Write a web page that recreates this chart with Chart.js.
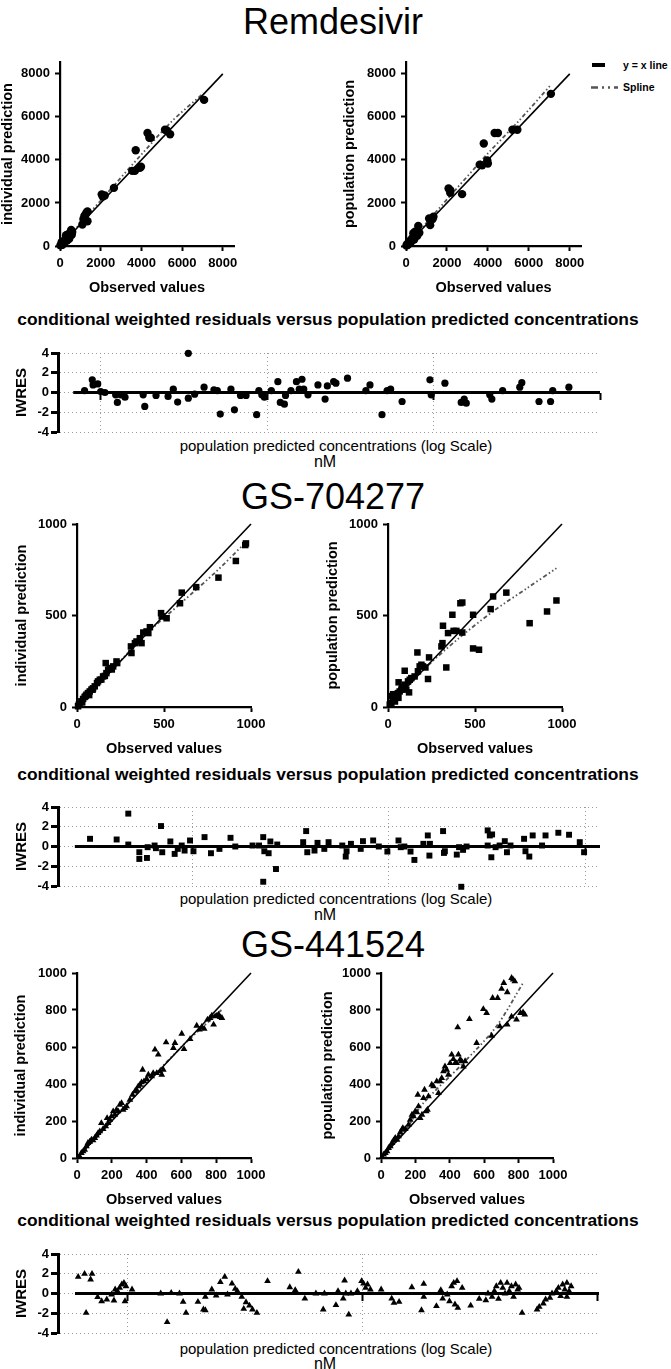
<!DOCTYPE html>
<html><head><meta charset="utf-8">
<script src="https://cdn.jsdelivr.net/npm/chart.js@4.4.1/dist/chart.umd.min.js"></script>
<style>
html,body{margin:0;padding:0;background:#fff;}
body{position:relative;width:671px;height:1369px;overflow:hidden;font-family:'Liberation Sans',Arial,Helvetica,sans-serif;color:#000;}
canvas{position:absolute;}
.t{position:absolute;white-space:nowrap;transform:translate(-50%,-50%);line-height:1;}
.tl{position:absolute;white-space:nowrap;transform:translateY(-50%);line-height:1;font-weight:bold;font-size:10.5px;}
</style></head><body>
<div class="t" style="left:333px;top:22px;font-size:36px">Remdesivir</div>
<div class="t" style="left:333px;top:497px;font-size:36px">GS-704277</div>
<div class="t" style="left:333px;top:945px;font-size:36px">GS-441524</div>

<div class="t" style="left:328px;top:320px;font-size:17.4px;font-weight:bold">conditional weighted residuals versus population predicted concentrations</div>
<div class="t" style="left:328px;top:775px;font-size:17.4px;font-weight:bold">conditional weighted residuals versus population predicted concentrations</div>
<div class="t" style="left:328px;top:1221px;font-size:17.4px;font-weight:bold">conditional weighted residuals versus population predicted concentrations</div>

<div class="t" style="left:336px;top:445px;font-size:15px">population predicted concentrations (log Scale)</div>
<div class="t" style="left:325px;top:462px;font-size:16px">nM</div>
<div class="t" style="left:336px;top:898px;font-size:15px">population predicted concentrations (log Scale)</div>
<div class="t" style="left:325px;top:915px;font-size:16px">nM</div>
<div class="t" style="left:336px;top:1348px;font-size:15px">population predicted concentrations (log Scale)</div>
<div class="t" style="left:325px;top:1364px;font-size:16px">nM</div>

<div style="position:absolute;left:592px;top:63px;width:13px;height:3.5px;background:#000"></div>
<svg style="position:absolute;left:591px;top:85px" width="27" height="5"><line x1="0" y1="2.5" x2="27" y2="2.5" stroke="#555" stroke-width="2.5" stroke-dasharray="7 4 2 4 2 4"/></svg>
<div class="tl" style="left:623px;top:65px">y = x line</div>
<div class="tl" style="left:623px;top:87px">Spline</div>

<script>
// ---------- DATA ----------
// Remdesivir: [observed, individual prediction]
const remIpred = [[20,30],[60,50],[100,120],[150,200],[200,150],[250,300],[300,350],[350,250],[300,500],[400,550],[450,400],[500,600],[550,750],[600,650],[580,520],[450,330],[120,60],[80,180],
  [1100,1000],[1150,1250],[1200,1400],[1300,1550],[1350,1600],[1350,1150],[1250,1450],[2050,2400],[2100,2300],[2200,2350],[2650,2700],[3550,3490],[3680,3490],[3720,4450],[3930,3630],[3980,3680],[4300,5250],[4390,5030],[4460,5030],[5160,5400],[5250,5370],[5410,5190],[7080,6790]];
// Remdesivir: [observed, population prediction]
const remPred = [[20,20],[60,80],[100,60],[150,150],[200,250],[250,200],[300,350],[350,400],[360,590],[440,660],[400,300],[520,510],[600,930],[650,620],[550,480],[120,150],
  [1130,1280],[1180,970],[1340,1360],[1300,1250],[2080,2670],[2160,2590],[2160,2470],[2740,2410],[3600,3780],[3720,3750],[3800,4760],[3970,3980],[4000,3830],[4330,5250],[4490,5250],[5200,5400],[5440,5400],[7080,7070]];
const remSplineI = [[0,0],[1000,1050],[2500,2650],[4000,4250],[5500,5800],[7050,7100]];
const remSplineP = [[0,0],[1000,1080],[2500,2700],[4000,4300],[5500,5800],[7080,7490]];
// Remdesivir IWRES: [population predicted conc (nM), IWRES]
const remRes = [[8.0,0.2],[8.9,1.28],[9.0,0.77],[9.6,0.87],[10,0.1],[10.6,0],[12.3,-0.24],[12.6,-1.0],[13.2,-0.24],[14,-0.47],[18,-0.24],[18.4,-1.41],[21.5,-0.3],[25.4,-0.4],[27.3,0.34],[29,-0.97],[33.6,3.97],[33.6,-0.57],[36.7,-0.17],[41.8,0.54],[47.9,0.27],[50.2,0.2],[52.3,-2.18],[60.6,0.34],[63.6,-1.75],[69.2,-0.3],[74.7,-0.3],[86.5,-2.25],[89.2,0.2],[92.9,-0.24],[96.3,-0.47],[106,0.2],[116,1.1],[120,-1.0],[127,-1.18],[129,-0.3],[139,0.2],[150,1.1],[156,0.34],[162,1.34],[166,0.34],[176,-0.24],[202,0.77],[223,-0.67],[230,0.67],[251,1.1],[259,0.94],[304,1.45],[392,0.2],[415,0.77],[490,-2.25],[526,0.2],[552,0.34],[647,-0.91],[951,1.28],[968,-0.24],[1170,0.94],[1466,-1.0],[1528,-0.67],[1572,-1.08],[2176,-0.24],[2240,-0.67],[2600,0.2],[3296,0.54],[3391,1.0],[4300,-0.91],[5047,-0.91],[5200,0.2],[6500,0.54]];

// GS-704277
const gs7Ipred = [[6,4],[10,12],[15,18],[25,31],[30,25],[35,44],[44,55],[50,60],[54,67],[63,76],[70,65],[73,85],[83,95],[90,95],[92,102],[102,113],[115,131],[121,140],[131,149],[140,150],[150,167],[160,170],[165,240],[169,185],[179,204],[188,213],[200,205],[208,222],[227,249],[231,240],
  [310,331],[313,295],[333,349],[342,358],[361,376],[371,349],[381,407],[400,413],[419,436],[410,404],[483,513],[487,495],[515,485],[592,567],[602,625],[685,655],[813,707],[913,798],[967,885],[971,894]];
const gs7Pred = [[10,13],[19,22],[20,60],[29,40],[30,70],[38,49],[40,30],[48,58],[57,76],[60,50],[67,85],[61,135],[77,95],[80,110],[86,104],[96,122],[105,95],[115,140],[121,80],[125,149],[134,158],[96,198],[153,167],[169,298],[172,195],[182,222],[192,231],[201,222],[215,216],[230,153],[236,271],
  [307,331],[313,349],[316,444],[335,216],[345,404],[370,504],[377,416],[393,416],[416,567],[427,571],[427,407],[489,504],[489,320],[523,313],[590,535],[604,604],[680,625],[814,458],[914,522],[968,582]];
const gs7SplineI = [[0,0],[400,400],[600,570],[800,740],[975,905]];
const gs7SplineP = [[0,0],[200,200],[400,370],[600,520],[800,650],[968,758]];
const gs7Res = [[3.0,0.78],[4.1,0.71],[4.7,3.33],[4.7,0.2],[5.35,-0.58],[5.35,-1.26],[5.85,-1.16],[5.9,-0.07],[6.4,0.1],[6.5,-0.17],[6.9,2.07],[7.0,-0.58],[7.7,0.51],[8.1,-0.75],[8.4,-0.24],[8.8,0.1],[9.1,-0.41],[9.7,0.61],[10.1,-0.48],[11.5,0.95],[12.4,-0.68],[13.7,-0.24],[15.6,0.88],[16.5,0],[20.2,0.1],[21.8,0.1],[22.9,0.95],[23.2,-0.48],[22.9,-3.57],[24.4,-0.68],[24.9,0.51],[26.6,-2.28],[27.0,0.2],[36.6,0.44],[37.9,1.56],[38.4,-0.58],[41.8,-0.41],[43.3,0.37],[46.9,-0.24],[49.3,0.44],[57.9,0.1],[60.3,-1.02],[60.9,-0.48],[64.1,0.27],[71.9,-0.24],[73.8,0.54],[83.2,0.61],[88.9,0],[98.3,-0.51],[112,0.61],[115,-0.07],[120,0],[129,-0.51],[135,-1.36],[150,0.27],[158,1.12],[161,-0.92],[162,0.27],[189,1.56],[191,-0.65],[193,-0.48],[222,-0.82],[228,-0.07],[234,-4.08],[239,-0.34],[249,0],[319,1.63],[327,1.12],[319,0.1],[333,-1.09],[336,1.22],[350,-0.07],[367,0.1],[390,0.54],[400,-0.58],[417,0.1],[489,0.78],[497,-0.48],[520,-1.02],[541,1.12],[604,0.1],[629,1.12],[731,1.39],[829,1.19],[940,0.44],[989,-0.58]];

// GS-441524
const gs4Ipred = [[15,9],[25,27],[35,36],[44,45],[54,63],[63,81],[73,88],[83,99],[92,96],[102,108],[112,121],[121,135],[131,144],[140,189],[150,157],[165,171],[173,216],[179,189],[188,207],[198,225],[208,252],[217,234],[227,261],[237,252],[246,288],[256,297],[265,261],[275,270],[285,279],
  [304,315],[319,342],[333,360],[342,369],[352,387],[362,396],[371,409],[377,477],[385,414],[400,427],[410,450],[429,441],[438,459],[448,586],[458,459],[467,559],[477,468],[487,450],[496,477],
  [512,625],[554,595],[563,622],[602,672],[615,589],[650,643],[688,715],[704,694],[717,708],[731,699],[750,748],[765,757],[785,721],[794,766],[813,775],[823,762],[833,757],[775,770],[804,770]];
const gs4Pred = [[6,5],[15,18],[25,27],[35,36],[44,54],[54,63],[64,81],[73,95],[83,108],[93,99],[102,117],[112,139],[122,153],[127,162],[141,157],[160,180],[170,207],[180,234],[189,225],[199,252],[209,247],[214,342],[218,279],[228,216],[238,234],[247,324],[253,369],[263,252],[270,261],[276,333],
  [295,396],[305,387],[324,414],[334,351],[344,414],[353,432],[363,468],[372,495],[382,477],[392,450],[402,513],[411,559],[421,535],[431,513],[440,513],[450,559],[460,532],[469,523],[479,495],[446,706],[489,523],
  [514,751],[556,622],[595,805],[614,784],[643,661],[649,865],[678,865],[691,712],[701,914],[714,946],[734,896],[734,721],[759,973],[768,964],[778,955],[759,764],[788,748],[811,784],[826,787],[836,775]];
const gs4SplineI = [[0,0],[300,305],[600,600],[830,800]];
const gs4SplineP = [[0,0],[150,160],[240,290],[480,515],[670,710],[826,946]];
const gs4Res = [[6.2,1.69],[6.6,1.99],[6.7,-1.96],[7.0,1.42],[7.1,1.99],[7.5,-0.37],[7.8,-0.78],[8.2,-0.61],[8.6,-0.1],[8.8,-0.71],[8.9,0.41],[9.1,0.24],[9.3,0.57],[9.5,0.91],[9.7,1.08],[9.8,-0.78],[9.9,0.74],[10.5,0.41],[13.9,0],[14.8,-2.9],[15.4,0.07],[16.7,0],[17.3,-0.84],[17.8,-1.96],[20.0,-0.84],[21.1,-1.62],[21.5,-1.69],[21.5,-0.34],[22.9,0.41],[23.9,-0.2],[24.9,1.15],[26.0,1.69],[26.7,-0.1],[27.9,1.01],[28.8,0.47],[29.4,0.24],[30.7,-0.34],[31.3,-1.55],[32.0,-0.88],[33.1,-1.22],[34.1,-1.62],[35.6,-1.96],[39.5,1.25],[49.1,0.64],[51.8,0.34],[53.4,2.2],[56.9,-0.51],[63.4,0],[68.1,-1.62],[68.9,0],[77.1,-1.18],[78.7,0.24],[82.8,-0.51],[83.9,1.32],[84.9,0],[87.4,-2.13],[89.3,0],[95.1,0.24],[99.1,1.25],[101,1.01],[103,0.57],[105,0.91],[108,0.41],[120,0.41],[133,-0.51],[136,-0.95],[143,-0.84],[162,0.64],[178,-1.69],[182,0.98],[182,-0.34],[206,-1.28],[215,0.34],[219,-0.51],[229,-0.1],[234,-0.78],[239,0.74],[244,1.08],[247,-1.11],[252,1.25],[254,-1.45],[265,0.57],[288,-1.22],[313,-0.54],[334,-0.68],[341,0],[355,-0.34],[363,0.24],[370,0.74],[378,-0.54],[386,1.08],[394,0.57],[403,0],[411,1.08],[420,0.24],[429,0.74],[438,-0.34],[447,0.91],[456,0.41],[462,0.57],[476,-1.96],[551,-1.62],[563,-1.35],[586,-1.01],[599,-0.61],[625,-0.44],[638,0],[665,0.24],[679,0.57],[694,-0.27],[708,0.91],[723,0.41],[738,1.08],[754,0.24],[738,-0.34],[769,0.74]];

// tick labels / axis ranges
const remTicks = [0, 2000, 4000, 6000, 8000];
const gs7Ticks = [0, 500, 1000];
const gs4Ticks = [0, 200, 400, 600, 800, 1000];
const remAxisMax = 8550, remLineMax = 8000, gsAxisMax = 1000, gsLineMax = 1000;
const remDecades = [10, 100, 1000, 10000];
const gsDecades = [10, 100, 1000];
const iwresTicks = [-4, -2, 0, 2, 4];

// ---------- DRAWING ----------
const FONT = "'Liberation Sans', Arial, Helvetica, sans-serif";
const f = (size, weight) => ({family: FONT, size, weight: weight || 'bold'});
const toXY = a => a.map(p => ({x: p[0], y: p[1]}));
const setTicks = vals => s => { s.ticks = vals.map(v => ({value: v})); };

function makeCanvas(left, top, w, h) {
  const c = document.createElement('canvas');
  c.width = Math.round(w); c.height = Math.round(h);
  c.style.left = left + 'px'; c.style.top = top + 'px';
  c.style.width = Math.round(w) + 'px'; c.style.height = Math.round(h) + 'px';
  document.body.appendChild(c);
  return c;
}

function scatterPanel(o) {
  const cl = Math.round(o.titleX - 9), ct = Math.round(o.t - 20), cr = Math.round(o.r + 40), cb = Math.round(o.obsY + 9);
  const c = makeCanvas(cl, ct, cr - cl, cb - ct);
  const yW = o.l - cl, xH = cb - o.b;
  const axisCommon = (title, fit) => ({
    type: 'linear', min: 0, max: o.max,
    afterBuildTicks: setTicks(o.ticks),
    ticks: {font: f(13), color: '#000', padding: 5, maxRotation: 0, autoSkip: false, callback: v => String(v)},
    grid: {drawOnChartArea: false, drawTicks: true, tickLength: 5, tickWidth: 2, tickColor: '#000'},
    border: {display: true, color: '#000', width: 2.2},
    title: {display: true, text: title, font: f(14.5), color: '#000', padding: {top: 0, bottom: 0}},
    afterFit: fit
  });
  new Chart(c, {
    type: 'scatter',
    data: {datasets: [
      {data: toXY(o.pts), pointStyle: o.style, pointRadius: o.radius, pointHoverRadius: o.radius, backgroundColor: '#000', borderColor: '#000', borderWidth: 0, clip: false},
      {data: [{x: 0, y: 0}, {x: o.lineMax, y: o.lineMax}], showLine: true, borderColor: '#000', borderWidth: 1.6, pointRadius: 0, clip: false},
      {data: toXY(o.spline), showLine: true, borderColor: '#555', borderWidth: 1.8, borderDash: [4, 2.5, 1.5, 2.5, 1.5, 2.5], tension: 0.3, pointRadius: 0, clip: false}
    ]},
    options: {
      responsive: false, animation: false, devicePixelRatio: 1, events: [],
      layout: {padding: {top: o.t - ct, right: cr - o.r, left: 0, bottom: 0}},
      plugins: {legend: {display: false}, tooltip: {enabled: false}},
      scales: {
        x: Object.assign(axisCommon('Observed values', s => { s.height = xH; }), {position: 'bottom'}),
        y: Object.assign(axisCommon(o.yTitle, s => { s.width = yW; }), {position: 'left'})
      }
    }
  });
}

function residPanel(o) {
  const ct = o.t - 14, cb = o.b + 10;
  const c = makeCanvas(0, ct, 640, cb - ct);
  new Chart(c, {
    type: 'scatter',
    data: {datasets: [
      {data: toXY(o.pts), pointStyle: o.style, pointRadius: o.radius, pointHoverRadius: o.radius, backgroundColor: '#000', borderColor: '#000', borderWidth: 0, clip: false},
      {data: [{x: o.zeroStart, y: 0}, {x: o.max, y: 0}], showLine: true, borderColor: '#000', borderWidth: 3, borderCapStyle: 'butt', pointRadius: 0, clip: false}
    ]},
    options: {
      responsive: false, animation: false, devicePixelRatio: 1, events: [],
      layout: {padding: {top: 14, right: 640 - o.r, left: 0, bottom: 10}},
      plugins: {legend: {display: false}, tooltip: {enabled: false}},
      scales: {
        x: {
          type: 'logarithmic', position: {y: 0}, min: o.min, max: o.max,
          afterBuildTicks: setTicks(o.decades),
          ticks: {display: false},
          grid: {drawOnChartArea: true, lineWidth: 1, color: ctx => (ctx.tick && ctx.tick.value / o.max > 0.97) ? 'rgba(0,0,0,0)' : '#9a9a9a',
                 drawTicks: true, tickLength: 7, tickWidth: 2, tickColor: '#000'},
          border: {display: false, dash: [1, 3]}
        },
        y: {
          type: 'linear', position: 'left', min: -4, max: 4,
          afterBuildTicks: setTicks(iwresTicks),
          ticks: {font: f(13), color: '#000', padding: 2, callback: v => String(v)},
          grid: {drawOnChartArea: true, color: '#9a9a9a', lineWidth: 1, drawTicks: true, tickLength: 7, tickWidth: 3, tickColor: '#000'},
          border: {display: true, color: '#000', width: 3, dash: [1, 3]},
          title: {display: true, text: 'IWRES', font: f(15), color: '#000', padding: {top: 13, bottom: 0}},
          afterFit: s => { s.width = 58; }
        }
      }
    }
  });
}

// Remdesivir
scatterPanel({l: 60, r: 234, t: 62, b: 246, max: remAxisMax, ticks: remTicks, lineMax: remLineMax, titleX: 8, obsY: 288,
  yTitle: 'individual prediction', pts: remIpred, spline: remSplineI, style: 'circle', radius: 4.2});
scatterPanel({l: 406, r: 581, t: 62, b: 246, max: remAxisMax, ticks: remTicks, lineMax: remLineMax, titleX: 350, obsY: 288,
  yTitle: 'population prediction', pts: remPred, spline: remSplineP, style: 'circle', radius: 4.2});
residPanel({t: 353, b: 432, r: 600, min: 5.54, max: 10000, zeroStart: 6.84, decades: remDecades, pts: remRes, style: 'circle', radius: 3.6});

// GS-704277
scatterPanel({l: 77, r: 251, t: 524, b: 707, max: gsAxisMax, ticks: gs7Ticks, lineMax: gsLineMax, titleX: 22, obsY: 748.5,
  yTitle: 'individual prediction', pts: gs7Ipred, spline: gs7SplineI, style: 'rect', radius: 4.6});
scatterPanel({l: 388, r: 562, t: 524, b: 707, max: gsAxisMax, ticks: gs7Ticks, lineMax: gsLineMax, titleX: 333, obsY: 749,
  yTitle: 'population prediction', pts: gs7Pred, spline: gs7SplineP, style: 'rect', radius: 4.6});
residPanel({t: 807, b: 886, r: 600, min: 2.06, max: 1192, zeroStart: 2.51, decades: gsDecades, pts: gs7Res, style: 'rect', radius: 4.2});

// GS-441524
scatterPanel({l: 77, r: 251, t: 973, b: 1158, max: gsAxisMax, ticks: gs4Ticks, lineMax: gsLineMax, titleX: 21, obsY: 1200,
  yTitle: 'individual prediction', pts: gs4Ipred, spline: gs4SplineI, style: 'triangle', radius: 3.9});
scatterPanel({l: 381, r: 553, t: 973, b: 1158, max: gsAxisMax, ticks: gs4Ticks, lineMax: gsLineMax, titleX: 328, obsY: 1200,
  yTitle: 'population prediction', pts: gs4Pred, spline: gs4SplineP, style: 'triangle', radius: 3.9});
residPanel({t: 1254, b: 1333, r: 599, min: 5.09, max: 1010, zeroStart: 6.01, decades: gsDecades, pts: gs4Res, style: 'triangle', radius: 3.9});
</script>
</body></html>
